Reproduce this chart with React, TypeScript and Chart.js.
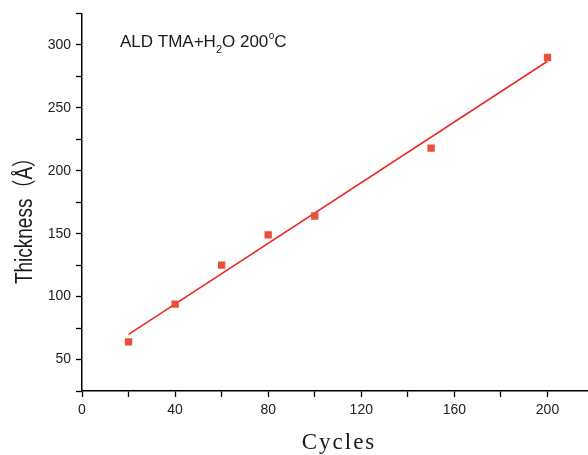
import React, { useEffect, useRef } from 'react';
import { Chart, registerables } from 'chart.js';

Chart.register(...registerables);

const cycles = [20, 40, 60, 80, 100, 150, 200];
const thickness = [64, 94, 125, 149, 164, 218, 290];
const fitCycles = [20, 200];
const fitThickness = [70, 287];
const xLabelStep = 40;
const yLabelStep = 50;

const isMult = (v: number, s: number) => Math.abs(v - Math.round(v / s) * s) < 1e-6;

const titlePlugin = {
  id: 'titles',
  afterDraw(chart: any) {
    const ctx = chart.ctx;
    ctx.save();
    // Annotation
    ctx.fillStyle = '#1a1a1a';
    ctx.textBaseline = 'alphabetic';
    ctx.textAlign = 'left';
    let x = 120;
    const base = 47;
    ctx.font = '17px "Liberation Sans", Arial, sans-serif';
    ctx.fillText('ALD TMA+H', x, base);
    x += ctx.measureText('ALD TMA+H').width;
    ctx.font = '11px "Liberation Sans", Arial, sans-serif';
    ctx.fillText('2', x, base + 6);
    x += ctx.measureText('2').width;
    ctx.font = '17px "Liberation Sans", Arial, sans-serif';
    ctx.fillText('O 200', x, base);
    x += ctx.measureText('O 200').width + 0.5;
    ctx.font = '10px "Liberation Sans", Arial, sans-serif';
    ctx.fillText('o', x, base - 8);
    x += ctx.measureText('o').width;
    ctx.font = '17px "Liberation Sans", Arial, sans-serif';
    ctx.fillText('C', x, base);

    // Y title
    ctx.save();
    ctx.translate(32, 216);
    ctx.rotate(-Math.PI / 2);
    ctx.scale(1, 1.28);
    ctx.textAlign = 'center';
    ctx.textBaseline = 'alphabetic';
    ctx.font = '19px "Liberation Sans", Arial, "Noto Sans CJK SC", sans-serif';
    ctx.fillStyle = '#1a1a1a';
    ctx.fillText('Thickness\uFF08\u00C5\uFF09', 0, 0);
    ctx.restore();

    // X title
    ctx.save();
    ctx.textAlign = 'center';
    ctx.textBaseline = 'alphabetic';
    ctx.font = '23px "Liberation Serif", "Times New Roman", serif';
    (ctx as any).letterSpacing = '2px';
    ctx.fillStyle = '#1a1a1a';
    ctx.fillText('Cycles', 339, 449);
    ctx.restore();

    ctx.restore();
  },
};

export default function App() {
  const ref = useRef<HTMLCanvasElement>(null);
  useEffect(() => {
    if (!ref.current) return;
    const tickFont = { family: '"Liberation Sans", Arial, sans-serif', size: 14 };
    const chart = new Chart(ref.current, {
      type: 'scatter',
      data: {
        datasets: [
          {
            type: 'scatter',
            data: cycles.map((c, i) => ({ x: c, y: thickness[i] })),
            pointStyle: 'rect',
            pointRadius: 5.2,
            pointBackgroundColor: '#e8503a',
            pointBorderWidth: 0,
            order: 1,
          },
          {
            type: 'line',
            data: fitCycles.map((c, i) => ({ x: c, y: fitThickness[i] })),
            borderColor: '#ea2a22',
            borderWidth: 1.6,
            pointRadius: 0,
            fill: false,
            order: 2,
          } as any,
        ],
      },
      options: {
        animation: false,
        responsive: false,
        maintainAspectRatio: false,
        layout: { autoPadding: false, padding: { top: 10, right: 0, left: 0, bottom: 0 } },
        plugins: { legend: { display: false }, tooltip: { enabled: false } },
        scales: {
          x: {
            type: 'linear',
            min: 0,
            max: 217.4,
            grid: { display: true, drawOnChartArea: false, tickLength: 6, tickColor: '#000', tickWidth: 1.3 },
            border: { display: true, color: '#000', width: 1.5 },
            ticks: {
              stepSize: 20,
              includeBounds: false,
              padding: 5,
              color: '#222',
              font: tickFont,
              maxRotation: 0,
              autoSkip: false,
              callback: (v: any) => (isMult(Number(v), xLabelStep) ? String(Math.round(Number(v))) : ''),
            },
            afterBuildTicks: (scale: any) => {
              scale.ticks = scale.ticks.filter((t: any) => isMult(t.value, 20) && t.value <= 200);
            },
            afterFit: (scale: any) => {
              scale.height = 64;
              scale.paddingRight = 0;
            },
          },
          y: {
            type: 'linear',
            min: 25,
            max: 325,
            grid: { display: true, drawOnChartArea: false, tickLength: 6, tickColor: '#000', tickWidth: 1.3 },
            border: { display: true, color: '#000', width: 1.5 },
            ticks: {
              stepSize: 25,
              padding: 5,
              color: '#222',
              font: tickFont,
              autoSkip: false,
              callback: (v: any) => (isMult(Number(v), yLabelStep) ? String(Math.round(Number(v))) : ''),
            },
            afterFit: (scale: any) => {
              scale.width = 82;
            },
          },
        },
      },
      plugins: [titlePlugin],
    });
    return () => chart.destroy();
  }, []);
  return (
    <div style={{ position: 'fixed', left: 0, top: 0, width: 588, height: 455, background: '#fff' }}>
      <canvas ref={ref} width={588} height={455} style={{ width: 588, height: 455, display: 'block' }} />
    </div>
  );
}
